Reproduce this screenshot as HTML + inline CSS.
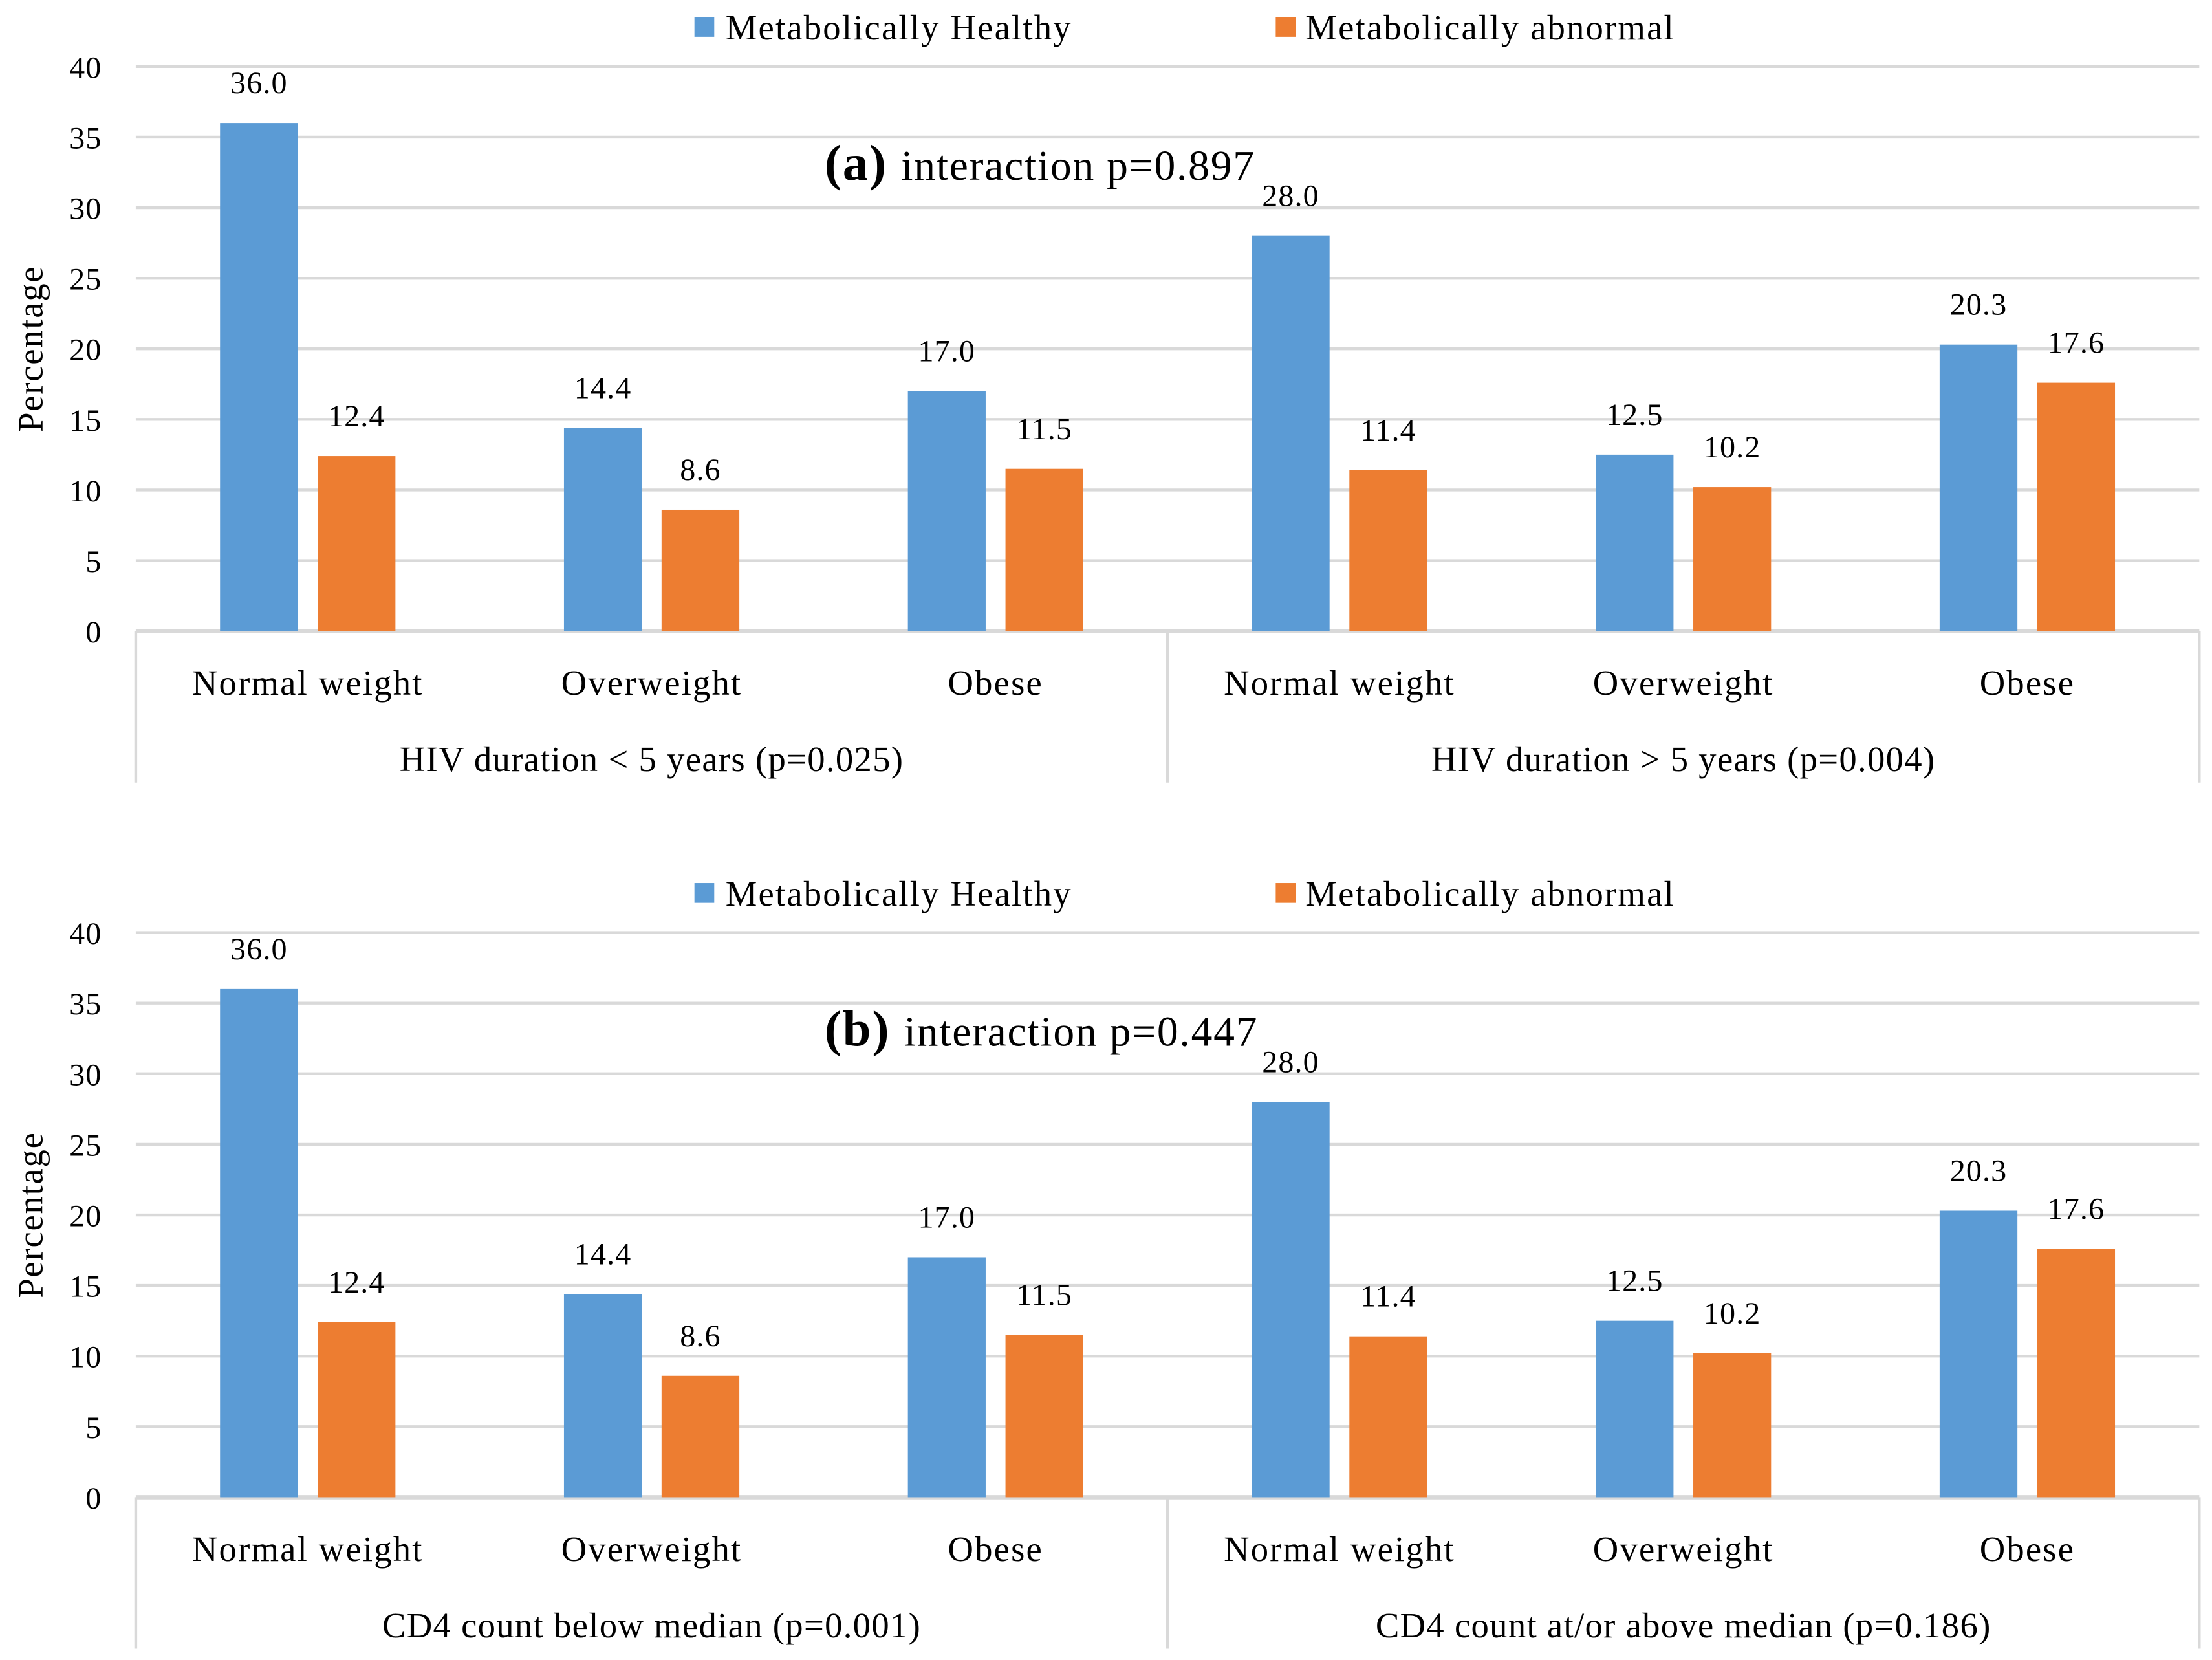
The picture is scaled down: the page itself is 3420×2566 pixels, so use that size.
<!DOCTYPE html>
<html><head><meta charset="utf-8"><style>
html,body{margin:0;padding:0;background:#fff;}
svg{display:block;}
text{font-family:"Liberation Serif",serif;fill:#000;}
</style></head><body>
<svg id="chart" width="3420" height="2566" viewBox="0 0 1564 1173" preserveAspectRatio="none" xmlns="http://www.w3.org/2000/svg"></svg>
<script>
const categories = ["Normal weight","Overweight","Obese","Normal weight","Overweight","Obese"];
const healthyA = [36.0,14.4,17.0,28.0,12.5,20.3];
const abnormalA = [12.4,8.6,11.5,11.4,10.2,17.6];
const healthyB = [36.0,14.4,17.0,28.0,12.5,20.3];
const abnormalB = [12.4,8.6,11.5,11.4,10.2,17.6];
const yTicks = [0,5,10,15,20,25,30,35,40];
const groupsA = ["HIV duration < 5 years (p=0.025)","HIV duration > 5 years (p=0.004)"];
const groupsB = ["CD4 count below median (p=0.001)","CD4 count at/or above median (p=0.186)"];
const titlesLetter = ["(a)","(b)"];
const titlesText = ["interaction p=0.897","interaction p=0.447"];

const NS="http://www.w3.org/2000/svg";
const svg=document.getElementById('chart');
function mk(tag,attrs,parent){const e=document.createElementNS(NS,tag);for(const k in attrs)e.setAttribute(k,attrs[k]);(parent||svg).appendChild(e);return e;}
const L=96,R=1555,catW=(R-L)/6,barW=55;

function panel(off,healthy,abnormal,groups,idx){
  const g=mk('g',{});
  
  
  const y0=446+off,y40=47+off;
  const y=v=>y0-(v/40)*(y0-y40);
  yTicks.forEach(t=>{
    if(t>0){const gl=mk('line',{x1:L,x2:R,y1:y(t),y2:y(t),stroke:'#d9d9d9','stroke-width':2},g);
    
    }
    const tl=mk('text',{x:72,y:y(t)+8,'text-anchor':'end','font-size':22,'letter-spacing':0.5},g);tl.textContent=t;
    
    
  });
  const yt=mk('text',{x:0,y:0,'font-size':25,'letter-spacing':0.8,'text-anchor':'middle',transform:`translate(30,${y(20)}) rotate(-90)`},g);
  yt.textContent='Percentage';
  
  
  mk('line',{x1:L,x2:R,y1:y0,y2:y0,stroke:'#d9d9d9','stroke-width':3},g);
  [L,(L+R)/2,R].forEach(x=>{mk('line',{x1:x,x2:x,y1:y0,y2:y0+107,stroke:'#d9d9d9','stroke-width':2},g);});
  categories.forEach((c,i)=>{
    const cx=L+catW*(i+0.5);
    const b=mk('rect',{x:cx-barW-7,y:y(healthy[i]),width:barW,height:y0-y(healthy[i]),fill:'#5b9bd5'},g);
    
    
    const o=mk('rect',{x:cx+7,y:y(abnormal[i]),width:barW,height:y0-y(abnormal[i]),fill:'#ed7d31'},g);
    
    
    const t1=mk('text',{x:cx-barW/2-7,y:y(healthy[i])-21,'text-anchor':'middle','font-size':22,'letter-spacing':0.5},g);t1.textContent=healthy[i].toFixed(1);
    
    
    const t2=mk('text',{x:cx+barW/2+7,y:y(abnormal[i])-21,'text-anchor':'middle','font-size':22,'letter-spacing':0.5},g);t2.textContent=abnormal[i].toFixed(1);
    
    
    const cl=mk('text',{x:cx,y:y0+45,'text-anchor':'middle','font-size':25,'letter-spacing':1},g);cl.textContent=c;
    
    
  });
  groups.forEach((gn,i)=>{
    const gt=mk('text',{x:L+catW*(3*i+1.5),y:y0+99,'text-anchor':'middle','font-size':25,'letter-spacing':0.6},g);gt.textContent=gn;
    
    
  });
  const ly=off;
  const l1=mk('rect',{x:491,y:ly+12,width:14,height:14,fill:'#5b9bd5'},g);
  
  
  const lt1=mk('text',{x:513,y:ly+28,'font-size':25,'letter-spacing':1},g);lt1.textContent='Metabolically Healthy';
  
  
  const l2=mk('rect',{x:902,y:ly+12,width:14,height:14,fill:'#ed7d31'},g);
  
  
  const lt2=mk('text',{x:923,y:ly+28,'font-size':25,'letter-spacing':1},g);lt2.textContent='Metabolically abnormal';
  
  
  const tt=mk('text',{x:583,y:off+127,'font-size':30,'letter-spacing':0.8},g);
  const tb=mk('tspan',{'font-weight':'bold','font-size':36},tt);tb.textContent=titlesLetter[idx]+' ';
  const tn=mk('tspan',{},tt);tn.textContent=titlesText[idx];
  
  
}
panel(0,healthyA,abnormalA,groupsA,0);
panel(612,healthyB,abnormalB,groupsB,1);
</script>
</body></html>
